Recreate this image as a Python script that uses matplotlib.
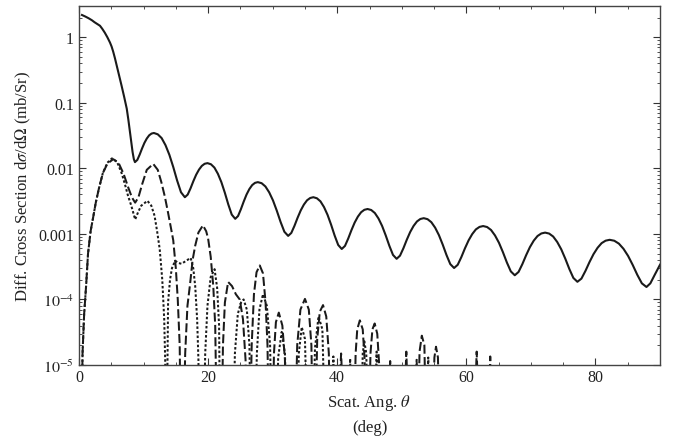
import matplotlib
matplotlib.use("Agg")
import matplotlib.pyplot as plt
from matplotlib.ticker import FixedLocator, MultipleLocator, LogLocator, NullFormatter, FixedFormatter

plt.rcParams['font.family'] = ['Liberation Serif', 'DejaVu Serif']
plt.rcParams['mathtext.fontset'] = 'stix'
plt.rcParams['lines.scale_dashes'] = False

# ---- data ----
solid_x = [0.46, 1.0, 1.5, 2.0, 2.4, 2.8, 3.25, 3.6, 4.0, 4.4, 4.8, 5.05, 5.3, 5.57, 5.84,
           6.2, 6.6, 7.0, 7.4, 7.65, 7.9, 8.1, 8.3, 8.5, 8.67,
           9.036, 9.403, 9.769, 10.135, 10.501, 10.868, 11.234, 11.6,
           12.2, 12.8, 13.4, 14.0, 14.6, 15.2, 15.8, 16.4,
           16.8375, 17.275, 17.7125, 18.15, 18.5875, 19.025, 19.4625, 19.9,
           20.4375, 20.975, 21.5125, 22.05, 22.5875, 23.125, 23.6625, 24.2,
           24.6375, 25.075, 25.5125, 25.95, 26.3875, 26.825, 27.2625, 27.7,
           28.2875, 28.875, 29.4625, 30.05, 30.6375, 31.225, 31.8125, 32.4,
           32.8875, 33.375, 33.8625, 34.35, 34.8375, 35.325, 35.8125, 36.3,
           36.85, 37.4, 37.95, 38.5, 39.05, 39.6, 40.15, 40.7,
           41.2, 41.7, 42.2, 42.7, 43.2, 43.7, 44.2, 44.7,
           45.2625, 45.825, 46.3875, 46.95, 47.5125, 48.075, 48.6375, 49.2,
           49.725, 50.25, 50.775, 51.3, 51.825, 52.35, 52.875, 53.4,
           53.9875, 54.575, 55.1625, 55.75, 56.3375, 56.925, 57.5125, 58.1,
           58.6625, 59.225, 59.7875, 60.35, 60.9125, 61.475, 62.0375, 62.6,
           63.2125, 63.825, 64.4375, 65.05, 65.6625, 66.275, 66.8875, 67.5,
           68.0875, 68.675, 69.2625, 69.85, 70.4375, 71.025, 71.6125, 72.2,
           72.825, 73.45, 74.075, 74.7, 75.325, 75.95, 76.575, 77.2,
           77.825, 78.45, 79.075, 79.7, 80.325, 80.95, 81.575, 82.2,
           82.9125, 83.625, 84.3375, 85.05, 85.7625, 86.475, 87.1875, 87.9,
           88.5, 89.2, 90.0]
solid_y = [2.19, 2.07, 1.95, 1.82, 1.70, 1.60, 1.50, 1.35, 1.175, 1.0, 0.832, 0.724, 0.603, 0.479, 0.372,
           0.263, 0.182, 0.123, 0.0813, 0.0550, 0.0355, 0.0251, 0.0178, 0.0138, 0.01245,
           0.01346, 0.01626, 0.02014, 0.02449, 0.02851, 0.03192, 0.03396, 0.03467,
           0.0331, 0.0290, 0.0226, 0.0161, 0.0105, 0.00653, 0.00432, 0.00363,
           0.00398, 0.00495, 0.00637, 0.00800, 0.00957, 0.01091, 0.01175, 0.01202,
           0.01156, 0.01028, 0.00828, 0.00618, 0.00426, 0.00282, 0.00197, 0.00170,
           0.001875, 0.002377, 0.003112, 0.003981, 0.004831, 0.005559, 0.006012, 0.006166,
           0.005943, 0.005297, 0.004305, 0.003243, 0.002265, 0.001524, 0.001079, 0.000933,
           0.001035, 0.001327, 0.001766, 0.002286, 0.002805, 0.003258, 0.003532, 0.003631,
           0.003499, 0.003141, 0.002570, 0.001954, 0.001384, 0.000944, 0.000678, 0.000589,
           0.000656, 0.000849, 0.001140, 0.001489, 0.001837, 0.002143, 0.002333, 0.002399,
           0.002317, 0.002084, 0.001722, 0.001324, 0.000948, 0.000658, 0.000478, 0.000417,
           0.000466, 0.000604, 0.000815, 0.001069, 0.001324, 0.001549, 0.001690, 0.001738,
           0.001679, 0.001510, 0.001247, 0.000959, 0.000687, 0.000476, 0.000346, 0.000302,
           0.000338, 0.000443, 0.000604, 0.000798, 0.000995, 0.001172, 0.001279, 0.001318,
           0.001274, 0.001148, 0.000948, 0.000733, 0.000527, 0.000367, 0.000268, 0.000234,
           0.000263, 0.000346, 0.000474, 0.000630, 0.000789, 0.000929, 0.001016, 0.001047,
           0.001012, 0.000912, 0.000753, 0.000582, 0.000419, 0.000292, 0.000213, 0.000186,
           0.000208, 0.000273, 0.000372, 0.000492, 0.000614, 0.000723, 0.000789, 0.000813,
           0.000787, 0.000711, 0.000593, 0.000462, 0.000337, 0.000238, 0.000176, 0.000155,
           0.000176, 0.000240, 0.000339]

dashed_x = [0.40, 0.55, 0.80, 1.10, 1.40, 1.80, 2.20, 2.60, 3.10, 3.70, 4.40, 5.30, 6.10, 6.90,
            7.60, 8.20, 8.70, 9.20, 9.80, 10.50, 11.50, 12.20, 12.75, 13.30, 13.80, 14.20,
            14.60, 15.00, 15.30, 15.60, 15.75,
            16.20, 16.45, 16.80, 17.20, 17.60, 18.00, 18.50, 19.20, 19.70, 20.00, 20.40, 20.80, 21.10, 21.35,
            22.10, 22.30, 22.60, 23.10, 23.70, 24.30, 24.90, 25.40, 25.80, 26.00,
            26.50, 26.75, 27.10, 27.50, 28.00, 28.50, 28.90, 29.20, 29.40,
            30.00, 30.20, 30.50, 30.95, 31.50, 31.90, 32.10,
            33.50, 33.80, 34.30, 35.00, 35.60, 36.00, 36.20,
            36.60, 36.90, 37.30, 37.80, 38.30, 38.70, 38.90,
            40.10, 40.60, 41.10,
            42.60, 42.85, 43.10, 43.50, 43.95, 44.25, 44.40,
            44.90, 45.15, 45.45, 45.80, 46.20, 46.50, 46.60,
            47.90, 48.20, 48.50,
            50.30, 50.70, 51.10,
            52.50, 52.75, 53.10, 53.50, 53.75,
            54.80, 55.05, 55.30, 55.60, 55.85,
            61.20, 61.60, 62.00,
            63.35, 63.70, 64.05, 90.0]
dashed_y = [1e-6, 1.5e-5, 6e-5, 1.6e-4, 5e-4, 1.1e-3, 1.8e-3, 3.0e-3, 5.0e-3, 8.5e-3, 0.0118, 0.0138, 0.0123, 0.0083,
            0.0052, 0.0036, 0.0030, 0.0036, 0.0058, 0.0095, 0.0117, 0.0095, 0.0062, 0.0037, 0.0021, 0.0013,
            8e-4, 3e-4, 1e-4, 2e-5, 1e-6,
            1e-6, 1.5e-5, 8e-5, 1.7e-4, 4e-4, 6.6e-4, 1.05e-3, 1.35e-3, 1.1e-3, 8.5e-4, 4.5e-4, 1.6e-4, 4e-5, 1e-6,
            1e-6, 2e-5, 9e-5, 1.85e-4, 1.6e-4, 1.2e-4, 1e-4, 5e-5, 1.2e-5, 1e-6,
            1e-6, 2e-5, 1.2e-4, 2.6e-4, 3.3e-4, 2.5e-4, 9e-5, 2e-5, 1e-6,
            1e-6, 1.5e-5, 4.5e-5, 6.3e-5, 4e-5, 1.2e-5, 1e-6,
            1e-6, 2e-5, 7e-5, 1.02e-4, 7e-5, 2e-5, 1e-6,
            1e-6, 2.5e-5, 6.5e-5, 8.2e-5, 5.5e-5, 1.5e-5, 1e-6,
            1e-6, 1.5e-5, 1e-6,
            1e-6, 1.5e-5, 3.5e-5, 4.8e-5, 3.5e-5, 1.2e-5, 1e-6,
            1e-6, 1.5e-5, 3.5e-5, 4.3e-5, 3e-5, 1e-5, 1e-6,
            1e-6, 1.15e-5, 1e-6,
            1e-6, 1.6e-5, 1e-6,
            1e-6, 1.6e-5, 2.8e-5, 2e-5, 1e-6,
            1e-6, 1.3e-5, 1.9e-5, 1.3e-5, 1e-6,
            1e-6, 1.6e-5, 1e-6,
            1e-6, 1.35e-5, 1e-6, 1e-6]

dotted_x = [0.40, 0.55, 0.80, 1.10, 1.40, 1.80, 2.20, 2.60, 3.10, 3.70, 4.40, 5.10, 5.90, 6.60,
            7.10, 7.60, 8.10, 8.70, 9.20, 9.65, 10.60, 11.20, 11.70, 12.10, 12.50, 12.90,
            13.20, 13.35, 13.45,
            13.60, 13.80, 14.10, 14.40, 14.90, 15.40, 15.90, 16.60, 17.30, 17.70, 18.00, 18.30, 18.50, 18.60,
            19.30, 19.55, 19.90, 20.40, 21.00, 21.40, 21.70, 21.85,
            23.90, 24.15, 24.60, 25.10, 25.50, 26.00, 26.40, 26.60,
            27.30, 27.55, 27.95, 28.50, 29.10, 29.60, 29.85,
            30.60, 30.85, 31.40, 31.90, 32.20,
            33.80, 34.05, 34.50, 35.00, 35.35,
            36.30, 36.55, 37.10, 37.70, 38.10,
            39.05, 39.40, 39.75,
            41.70, 42.00, 42.30,
            43.70, 43.95, 44.20, 44.50, 44.75,
            45.70, 46.10, 46.50,
            51.95, 52.30, 52.60,
            53.70, 54.10, 54.50, 90.0]
dotted_y = [1e-6, 1.5e-5, 6e-5, 1.6e-4, 5e-4, 1.1e-3, 1.8e-3, 3.0e-3, 5.0e-3, 8.5e-3, 0.0122, 0.0142, 0.0125, 0.0085,
            0.0058, 0.0038, 0.0027, 0.00166, 0.0022, 0.0027, 0.0032, 0.0027, 0.0019, 0.0011, 5.9e-4, 2e-4,
            5e-5, 1.2e-5, 1e-6,
            1e-6, 9e-5, 2e-4, 3e-4, 3.9e-4, 3.6e-4, 3.5e-4, 3.9e-4, 4.3e-4, 3e-4, 1.6e-4, 5e-5, 1.2e-5, 1e-6,
            1e-6, 1.5e-5, 8e-5, 2.2e-4, 2.9e-4, 1.5e-4, 4e-5, 1e-6,
            1e-6, 1.5e-5, 6e-5, 9e-5, 1.0e-4, 7e-5, 2e-5, 1e-6,
            1e-6, 1.5e-5, 7e-5, 1.2e-4, 8e-5, 2e-5, 1e-6,
            1e-6, 1.3e-5, 3.2e-5, 1.5e-5, 1e-6,
            1e-6, 1.5e-5, 3.8e-5, 2.5e-5, 1e-6,
            1e-6, 1.8e-5, 5.5e-5, 3.5e-5, 1e-6,
            1e-6, 1.35e-5, 1e-6,
            1e-6, 1.25e-5, 1e-6,
            1e-6, 1.5e-5, 2.3e-5, 1.5e-5, 1e-6,
            1e-6, 1.6e-5, 1e-6,
            1e-6, 1.2e-5, 1e-6,
            1e-6, 1.3e-5, 1e-6, 1e-6]

y_ticks = [1e-5, 1e-4, 1e-3, 1e-2, 1e-1, 1]
y_ticklabels = [r'$10^{-5}$', r'$10^{-4}$', '0.001', '0.01', '0.1', '1']
x_ticks = [0, 20, 40, 60, 80]

# ---- figure ----
fig = plt.figure(figsize=(6.78, 4.39), dpi=100)
ax = fig.add_axes([0.1165, 0.1663, 0.8570, 0.8177])

col = '#1a1a1a'
ax.plot(solid_x, solid_y, color=col, lw=1.5, solid_joinstyle='round')
ax.plot(dashed_x, dashed_y, color=col, lw=1.45, dashes=(6.5, 2.4))
ax.plot(dotted_x, dotted_y, color=col, lw=1.45, dashes=(1.8, 1.5))

ax.set_yscale('log')
ax.set_xlim(0, 90)
ax.set_ylim(1e-5, 3.0)

ax.xaxis.set_major_locator(FixedLocator(x_ticks))
ax.xaxis.set_minor_locator(MultipleLocator(5))
ax.yaxis.set_major_locator(FixedLocator(y_ticks))
ax.yaxis.set_major_formatter(FixedFormatter(y_ticklabels))
ax.yaxis.set_minor_locator(LogLocator(base=10, subs=range(2, 10), numticks=20))
ax.yaxis.set_minor_formatter(NullFormatter())

ax.tick_params(which='both', direction='in', top=True, right=True, colors='#333333',
               labelcolor='#222222', labelsize=11.5)
ax.tick_params(which='major', length=5, width=0.8)
ax.tick_params(which='minor', length=2.5, width=0.6)
ax.tick_params(axis='x', pad=3)
for s in ax.spines.values():
    s.set_color('#444444')
    s.set_linewidth(1.0)

ax.set_xlabel('Scat. Ang. $\\theta$\n(deg)', fontsize=12, linespacing=1.55, color='#222222', labelpad=5)
ax.set_ylabel(r'Diff. Cross Section d$\sigma$/d$\Omega$ (mb/Sr)', fontsize=12, color='#222222', labelpad=4)

fig.savefig('out.png', dpi=100)
